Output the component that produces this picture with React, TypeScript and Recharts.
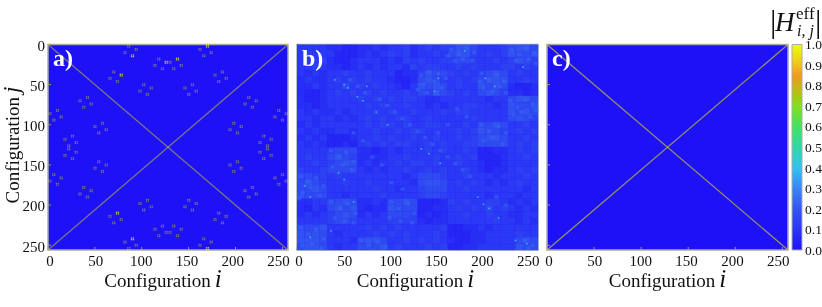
import { Bar, BarChart, Label, ReferenceArea, Scatter, ScatterChart, XAxis, YAxis } from "recharts";

const SERIF = "'Liberation Serif', serif";
const axisTicks = [0, 50, 100, 150, 200, 250];
const colorTicks = [0, 0.1, 0.2, 0.3, 0.4, 0.5, 0.6, 0.7, 0.8, 0.9, 1];

// colour scale of |H|
const scaleStops = [
  [0, "#1f14f5"], [0.1, "#2a35f5"], [0.2, "#3355f0"], [0.3, "#3a85f5"], [0.4, "#35c0ee"], [0.5, "#30d8a8"],
  [0.6, "#45e060"], [0.7, "#80e020"], [0.75, "#a8c810"], [0.85, "#f09a20"], [0.92, "#f0d018"], [1, "#e8ff10"],
] as [number, string][];

const diagonalDown = [{ i: 0, j: 0 }, { i: 256, j: 256 }];
const diagonalUp = [{ i: 0, j: 256 }, { i: 256, j: 0 }];

// panel a: centres of the little four-dot groups [i, j]
const quartetsDim = [
  [86, 2], [94, 6], [82, 10], [162, 6], [174, 10], [166, 14],
  [118, 18], [114, 26], [122, 30], [130, 22], [134, 30], [142, 26],
  [70, 34], [66, 42], [74, 46], [186, 34], [178, 38], [190, 42], [182, 46],
  [102, 50], [110, 54], [98, 58], [106, 62], [154, 50], [146, 54], [158, 58], [150, 62],
  [42, 66], [34, 70], [46, 74], [38, 78], [214, 66], [222, 70], [210, 74], [218, 78],
  [10, 82], [2, 86], [14, 90], [6, 94], [246, 82], [254, 86], [242, 90], [250, 94],
  [58, 98], [50, 102], [62, 106], [54, 110], [198, 98], [206, 102], [194, 106], [202, 110],
  [26, 114], [18, 118], [30, 122], [22, 126], [22, 130], [30, 134], [18, 138], [26, 142],
  [230, 114], [238, 118], [226, 122], [234, 126], [234, 130], [226, 134], [238, 138], [230, 142],
  [54, 146], [62, 150], [50, 154], [58, 158], [202, 146], [194, 150], [206, 154], [198, 158],
  [6, 162], [14, 166], [2, 170], [10, 174], [250, 162], [242, 166], [254, 170], [246, 174],
  [38, 178], [46, 182], [34, 186], [42, 190], [218, 178], [210, 182], [222, 186], [214, 190],
  [106, 194], [98, 198], [110, 202], [102, 206], [150, 194], [158, 198], [146, 202], [154, 206],
  [66, 214], [78, 218], [70, 222], [182, 210], [190, 214], [178, 218], [186, 222],
  [122, 226], [114, 230], [126, 234], [118, 238], [134, 226], [142, 230], [130, 234], [138, 238],
  [82, 246], [94, 250], [86, 254], [166, 242], [174, 246], [162, 250],
];
const quartetsBright = [
  [90, 14], [170, 2], [126, 22], [138, 18], [78, 38], [74, 210], [90, 242], [170, 254],
];

// panel b: coarse shade of each 8x8 block, one string per 8 configurations of j
const blockRows = [
  "33332211223233423434466533345665",
  "34333111232343423343566434346556",
  "33342112333232434334455433434654",
  "33432212323233243443343433344343",
  "32323343343331224655434345653433",
  "23223434343321125654343456663343",
  "22323353434332136565343365652112",
  "21123434343433435465434356542212",
  "21123333434343443223333332335665",
  "22123333343433433232334433236556",
  "32322323334343343334344333336565",
  "33233232343434433433333433335654",
  "23233333343443433443334355653343",
  "32322332334334344333343465543434",
  "23231112334343343343343456653343",
  "32321121343434433434334455553434",
  "33334555221232333434334311223434",
  "34335654222233433343343411123343",
  "33434565232334344343343321123333",
  "43345555323233433434334321223434",
  "55443433333333235554334333233343",
  "56543343343333325665343432323433",
  "55653333334332334555334333333323",
  "65553323333433334554333332333233",
  "22335565223255651112434334432323",
  "21325656212265551122343435343232",
  "23234565232355541212334334332233",
  "33334554333344442122333333433232",
  "55563333343434333334112232333333",
  "65653233334343433343111223333433",
  "66653332566533434343211223333565",
  "56653233555634333434112233333655",
];
// panel b: lighter mottling inside the bright blocks [i, j]
const mottles = [
  [132, 38], [140, 34], [150, 36], [158, 42], [134, 50], [146, 46], [154, 54], [138, 60], [148, 60], [128, 56],
  [164, 6], [172, 12], [180, 4], [188, 10], [168, 20], [176, 18], [186, 20], [160, 14], [196, 36], [204, 44],
  [212, 38], [220, 46], [198, 54], [208, 58], [216, 52], [222, 60], [194, 46], [228, 6], [236, 12], [244, 4],
  [252, 10], [232, 20], [246, 18], [254, 24], [226, 70], [234, 78], [242, 68], [250, 74], [230, 88], [238, 84],
  [248, 90], [254, 82], [196, 100], [204, 108], [214, 102], [222, 110], [198, 120], [208, 116], [218, 124], [4, 164],
  [12, 170], [20, 166], [28, 176], [6, 184], [14, 178], [24, 188], [2, 192], [36, 132], [44, 140], [52, 134],
  [60, 146], [38, 152], [48, 150], [58, 156], [36, 196], [46, 204], [54, 198], [62, 210], [40, 216], [50, 220],
  [60, 222], [68, 244], [76, 250], [86, 246], [94, 252], [100, 196], [108, 204], [118, 198], [124, 210], [98, 216],
  [110, 220], [122, 222], [242, 244], [250, 250], [246, 254], [4, 228], [12, 236], [20, 230], [28, 242], [6, 250],
  [16, 248], [26, 254], [96, 76], [104, 84], [112, 92], [88, 68], [120, 100], [128, 108], [136, 116], [72, 60],
  [144, 124], [152, 132], [160, 140], [168, 148], [176, 156], [184, 164], [56, 44], [64, 52], [212, 190], [222, 200],
  [80, 140], [90, 150], [100, 172], [112, 180], [170, 80], [180, 90], [160, 100], [150, 110], [70, 120], [60, 110],
];
// panel b: single bright specks near the diagonal [i, j]
const specks = [
  [50, 50], [54, 54], [64, 65], [70, 70], [40, 44], [84, 84], [96, 100], [132, 130], [140, 136], [152, 148],
  [198, 199], [204, 204], [192, 190], [214, 216], [74, 52], [178, 8], [200, 42], [210, 52], [240, 28], [44, 160],
  [50, 168], [8, 176], [14, 190], [60, 196], [150, 42], [146, 58], [232, 244], [244, 248], [14, 240], [36, 232],
];

function shadeToValue(shade: number) {
  return 0.025 + shade * 0.028;
}

function valueToColor(v: number) {
  let k = 0;
  while (k < scaleStops.length - 2 && v > scaleStops[k + 1][0]) k++;
  const [a, ca] = scaleStops[k];
  const [b, cb] = scaleStops[k + 1];
  const t = Math.min(1, Math.max(0, (v - a) / (b - a)));
  const mix = (p: number) => Math.round(parseInt(ca.slice(p, p + 2), 16) * (1 - t) + parseInt(cb.slice(p, p + 2), 16) * t);
  return `rgb(${mix(1)},${mix(3)},${mix(5)})`;
}

const blocks = blockRows.flatMap((row, r) =>
  row.split("").map((s, c) => ({ i: c * 8 + 4, j: r * 8 + 4, v: shadeToValue(Number(s)) }))
);
const mottlePoints = mottles.map(([i, j]) => ({ i, j, v: 0.24 }));
const speckPoints = specks.map(([i, j]) => ({ i, j, v: 0.4 }));
const toDots = (list: number[][], v: number) =>
  list.flatMap(([i, j]) =>
    [[-1, -1], [1, -1], [-1, 1], [1, 1]].map(([di, dj]) => ({ i: i + di, j: j + dj, v }))
  );
const dimDots = toDots(quartetsDim, 0.95);
const brightDots = toDots(quartetsBright, 0.95);

const Cell = (size: number, w: number, h: number, opacity = 1) => (p: any) => (
  <rect
    x={p.cx - (size * w) / 2}
    y={p.cy - (size * h) / 2}
    width={size * w + 0.2}
    height={size * h + 0.2}
    fill={valueToColor(p.payload.v)}
    fillOpacity={opacity}
  />
);

const xTitle = (props: any) => {
  const { x, width } = props.viewBox;
  return (
    <text x={x + width / 2 - (props.shift ?? 0)} y={287} textAnchor="middle" fontFamily={SERIF} fontSize={19} fill="#111">
      Configuration
      <tspan dx={4} fontSize={25} fontStyle="italic">i</tspan>
    </text>
  );
};

const yTitle = () => (
  <text x={19} y={145} transform="rotate(-90 19 145)" textAnchor="middle" fontFamily={SERIF} fontSize={19} fill="#111">
    Configuration
    <tspan dx={4} fontSize={23} fontStyle="italic">j</tspan>
  </text>
);

// the reference squeezes its x labels slightly inward towards the right end
const XTick = ({ x, y, payload }: any) => (
  <text x={x + 2 - payload.value * 0.024} y={y} dy={9} textAnchor="middle" fontFamily={SERIF} fontSize={15} fill="#111">
    {payload.value}
  </text>
);

function Panel({ left, width, letter, showY, lineOpacity, children, shift }: any) {
  const hideY = () => "";
  return (
    <div style={{ position: "absolute", left, top: 0 }}>
      <ScatterChart width={48 + width + 12} height={307} margin={{ top: 44.5, right: 12, bottom: 0, left: 0 }}>
        <XAxis
          type="number"
          dataKey="i"
          domain={[0, 256]}
          ticks={axisTicks}
          interval={0}
          height={57}
          tick={<XTick />}
          tickSize={-3}
          tickMargin={10}
          stroke="#999"
          axisLine={false}
        >
          <Label content={(p: any) => xTitle({ ...p, shift })} />
        </XAxis>
        <YAxis
          type="number"
          dataKey="j"
          domain={[0, 256]}
          reversed
          ticks={axisTicks}
          interval={0}
          width={48}
          tick={{ fontFamily: SERIF, fontSize: 15, fill: "#111", dy: 1 }}
          tickSize={-3}
          tickMargin={6}
          stroke="#999"
          axisLine={false}
          tickFormatter={showY ? undefined : hideY}
        >
          {showY && <Label content={yTitle} />}
        </YAxis>
        <ReferenceArea x1={0} x2={256} y1={0} y2={256} fill="#1c12f5" fillOpacity={1} stroke="none" />
        {children}
        {lineOpacity > 0 && (
          <Scatter data={diagonalDown} line={{ stroke: "#dcd420", strokeWidth: 1.3, strokeOpacity: lineOpacity }} shape={() => null} isAnimationActive={false} />
        )}
        {lineOpacity > 0 && (
          <Scatter data={diagonalUp} line={{ stroke: "#dcd420", strokeWidth: 1.3, strokeOpacity: lineOpacity }} shape={() => null} isAnimationActive={false} />
        )}
        <ReferenceArea x1={0} x2={256} y1={0} y2={256} fill="none" stroke="#aaaaaa" strokeWidth={1.5} ifOverflow="visible" />
      </ScatterChart>
      <div style={{ position: "absolute", left: 53, top: 43, fontFamily: SERIF, fontWeight: 700, fontSize: 24, color: "#fff", lineHeight: "30px" }}>
        {letter}
      </div>
    </div>
  );
}

function ColorBar() {
  return (
    <div style={{ position: "absolute", left: 785, top: 0 }}>
      <BarChart
        width={37}
        height={307}
        data={[{ name: "scale", v: 1 }]}
        margin={{ top: 44.5, right: 0, bottom: 57, left: 7 }}
        barCategoryGap={0}
      >
        <defs>
          <linearGradient id="scaleFill" x1="0" y1="1" x2="0" y2="0">
            {scaleStops.map(([o, c]) => (
              <stop key={o} offset={o} stopColor={c} />
            ))}
          </linearGradient>
        </defs>
        <XAxis dataKey="name" hide />
        <YAxis
          orientation="right"
          domain={[0, 1]}
          ticks={colorTicks}
          interval={0}
          width={20}
          axisLine={false}
          tickLine={false}
          tickMargin={3}
          tickSize={0}
          tickFormatter={(v: number) => v.toFixed(1)}
          tick={{ fontFamily: SERIF, fontSize: 13.5, fill: "#111", textAnchor: "start" }}
        />
        <Bar dataKey="v" fill="url(#scaleFill)" stroke="#aaaaaa" strokeWidth={1} isAnimationActive={false} />
      </BarChart>
    </div>
  );
}

function ScaleTitle() {
  const base: any = { position: "absolute", fontFamily: SERIF, color: "#111", lineHeight: 1, whiteSpace: "nowrap" };
  return (
    <>
      <div style={{ ...base, left: 770, top: 5, fontSize: 32, fontWeight: 300 }}>|</div>
      <div style={{ ...base, left: 775, top: 9, fontSize: 27, fontStyle: "italic" }}>H</div>
      <div style={{ ...base, left: 796, top: 5, fontSize: 17 }}>eff</div>
      <div style={{ ...base, left: 797, top: 23, fontSize: 16, fontStyle: "italic" }}>i, j</div>
      <div style={{ ...base, left: 815, top: 5, fontSize: 32, fontWeight: 300 }}>|</div>
    </>
  );
}

export default function App() {
  const pxW = 240 / 256;
  const pxH = 205.5 / 256;
  return (
    <div style={{ position: "absolute", left: 0, top: 0, width: 822, height: 307, background: "#fff", overflow: "hidden", filter: "blur(0.45px)" }}>
      <Panel left={0} width={240} letter="a)" showY lineOpacity={0.5} shift={5}>
        <Scatter data={dimDots} shape={Cell(1, pxW * 1.2, pxH * 1.4, 0.42)} isAnimationActive={false} />
        <Scatter data={brightDots} shape={Cell(1, pxW * 1.2, pxH * 1.4, 0.8)} isAnimationActive={false} />
      </Panel>
      <Panel left={249} width={241} letter="b)" lineOpacity={0} shift={2}>
        <Scatter data={blocks} shape={Cell(8, pxW, pxH)} isAnimationActive={false} />
        <Scatter data={mottlePoints} shape={Cell(4, pxW, pxH, 0.55)} isAnimationActive={false} />
        <Scatter data={speckPoints} shape={Cell(1, pxW * 1.4, pxH * 1.6)} isAnimationActive={false} />
      </Panel>
      <Panel left={499} width={241} letter="c)" lineOpacity={0.65} shift={0} />
      <ColorBar />
      <ScaleTitle />
    </div>
  );
}
